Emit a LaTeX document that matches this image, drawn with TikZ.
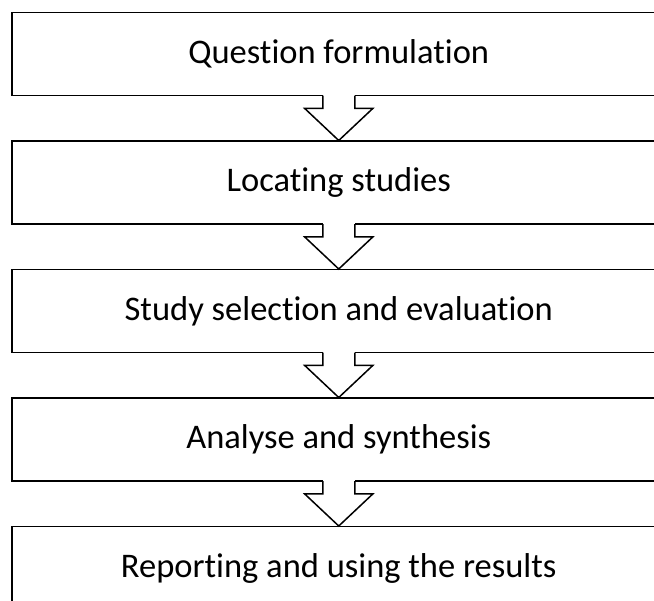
\documentclass[tikz,border=0pt]{standalone}
\usepackage{fontspec}
\setmainfont{Carlito}[Ligatures={NoCommon,NoContextual}]
\usetikzlibrary{positioning,calc}

\begin{document}
\begin{tikzpicture}[
  x=1pt, y=-1pt,
  font=\fontsize{34.5pt}{40pt}\selectfont,
  stage/.style={
    draw=black,
    fill=white,
    line width=1.5pt,
    minimum width=654pt,
    minimum height=83pt,
    inner sep=0pt,
    align=center
  },
  flowarrow/.style={
    draw=black,
    line width=1.5pt,
    line join=miter
  }
]

  % Page frame, boxes run off the right edge
  \useasboundingbox (0,0) rectangle (654,601);
  \clip (0,0) rectangle (654,601);

  % Stages of the review
  \node[stage, anchor=north west] (quest) at (11,12) {Question formulation};
  \node[stage, below=44pt of quest] (locate) {Locating studies};
  \node[stage, below=44pt of locate] (select) {Study selection and evaluation};
  \node[stage, below=44pt of select] (analyse) {Analyse and synthesis};
  \node[stage, below=44pt of analyse] (report) {Reporting and using the results};

  % Hollow block arrows between the stages
  \foreach \a/\b in {quest/locate, locate/select, select/analyse, analyse/report}{
    \fill[white] ($(\a.south)+(-16pt,2pt)$) rectangle ($(\a.south)+(16pt,-2pt)$);
    \draw[flowarrow] ($(\a.south)+(-16pt,0.75pt)$) -- ($(\a.south)+(-16pt,-12pt)$)
      -- ($(\a.south)+(-34pt,-12pt)$) -- (\b.north)
      -- ($(\a.south)+(34pt,-12pt)$) -- ($(\a.south)+(16pt,-12pt)$)
      -- ($(\a.south)+(16pt,0.75pt)$);
  }

\end{tikzpicture}
\end{document}
